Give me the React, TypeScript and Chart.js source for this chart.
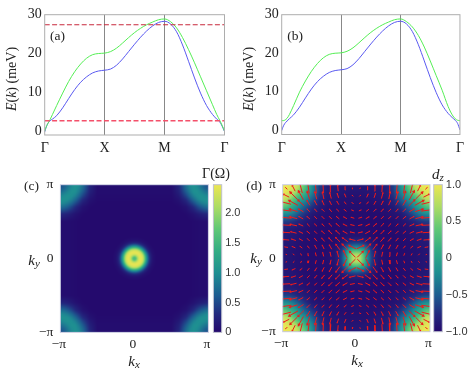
import React, { useEffect, useRef } from "react";
import { Chart, registerables } from "chart.js";

Chart.register(...registerables);

const W = 469;
const H = 378;
const PI = Math.PI;
const SERIF = '"Liberation Serif"';
const SANS = '"Liberation Sans"';

// ---------- band structure data ----------
const kPath = [0, 0.02, 0.05, 0.09, 0.13, 0.2, 0.3, 0.4, 0.5, 0.6, 0.7, 0.8, 0.9, 1, 1.1, 1.2, 1.3, 1.4, 1.5, 1.6, 1.7, 1.8, 1.9, 2, 2.1, 2.2, 2.3, 2.4, 2.5, 2.6, 2.7, 2.8, 2.87, 2.92, 2.96, 3];
const greenA = [0, 0.9, 1.9, 3, 4.3, 6.6, 9.8, 12.8, 15.3, 17.3, 18.8, 19.7, 20, 20.1, 20.5, 21.4, 22.7, 24.1, 25.4, 26.5, 27.4, 28.1, 28.7, 28.9, 28.2, 26.6, 24.1, 21, 17.6, 14, 10.4, 6.8, 4.3, 2.8, 1.5, 0];
const blueA = [-0.2, 0.8, 1.9, 2.7, 3.1, 4, 6, 8.4, 10.7, 12.6, 14, 15, 15.5, 15.7, 16, 17, 18.6, 20.5, 22.4, 24.2, 25.8, 27.1, 28, 28.3, 27.6, 25.6, 22.2, 18, 13.7, 9.8, 6.6, 4.3, 3.1, 2.4, 1.3, -0.1];
const greenB = [2.5, 2.5, 2.6, 3.1, 4.1, 6.4, 9.9, 12.8, 15.3, 17.3, 18.8, 19.7, 20, 20.1, 20.5, 21.4, 22.7, 24.1, 25.4, 26.5, 27.4, 28.1, 28.7, 28.9, 28.2, 26.8, 24.6, 21.6, 18, 14.2, 10.4, 6.2, 4, 3, 2.6, 2.5];
const blueB = [-0.1, 0.8, 1.7, 2.4, 3, 4, 6, 8.4, 10.7, 12.6, 14, 15, 15.5, 15.7, 16, 17, 18.6, 20.5, 22.4, 24.2, 25.8, 27.1, 28, 28.3, 27.6, 25.6, 22.2, 18, 13.7, 9.8, 6.6, 4.4, 3.3, 2.6, 1.8, 0.1];
const gapEnds = [0, 3];
const gapUpper = [27.4, 27.4];
const gapLower = [2.7, 2.7];
const pathTicks = [0, 1, 2, 3];
const pathLabels = ["Γ", "X", "M", "Γ"];
const energyTicks = [0, 10, 20, 30];

// ---------- Γ(Ω) data: ring around the centre + corner bands ----------
const ringRadius = [0, 0.02, 0.04, 0.06, 0.08, 0.1, 0.12, 0.14, 0.16, 0.18, 0.2, 0.22, 0.25, 0.3];
const ringValue = [1.5, 1.65, 2.05, 2.35, 2.45, 2.4, 2.2, 1.75, 1.2, 0.75, 0.42, 0.22, 0.08, 0.02];
const bandCoord = [0.5, 0.6, 0.7, 0.75, 0.8, 0.85, 0.9, 0.95, 1];
const bandGrid = [
  [0.01, 0.01, 0.01, 0.02, 0.03, 0.04, 0.05, 0.05, 0.05],
  [0.01, 0.01, 0.03, 0.06, 0.1, 0.16, 0.22, 0.26, 0.28],
  [0.01, 0.03, 0.1, 0.2, 0.32, 0.48, 0.62, 0.72, 0.76],
  [0.02, 0.06, 0.2, 0.36, 0.52, 0.7, 0.84, 0.92, 0.96],
  [0.03, 0.1, 0.32, 0.52, 0.72, 0.9, 1.0, 1.02, 1.02],
  [0.04, 0.16, 0.48, 0.7, 0.9, 1.0, 1.02, 0.98, 0.92],
  [0.05, 0.22, 0.62, 0.84, 1.0, 1.02, 0.94, 0.84, 0.76],
  [0.05, 0.26, 0.72, 0.92, 1.02, 0.98, 0.84, 0.68, 0.6],
  [0.05, 0.28, 0.76, 0.96, 1.02, 0.92, 0.76, 0.6, 0.5],
];

// ---------- d_z data (one quadrant, in units of π) ----------
const dzCoord = [0, 0.05, 0.1, 0.15, 0.2, 0.25, 0.3, 0.4, 0.5, 0.6, 0.7, 0.75, 0.8, 0.85, 0.9, 0.95, 1];
const dzGrid = [
  [0.8, 0.72, 0.35, -0.2, -0.6, -0.8, -0.9, -0.95, -0.96, -0.96, -0.95, -0.94, -0.93, -0.92, -0.9, -0.89, -0.88],
  [0.72, 0.68, 0.3, -0.25, -0.62, -0.8, -0.9, -0.95, -0.96, -0.96, -0.95, -0.94, -0.93, -0.92, -0.9, -0.89, -0.88],
  [0.35, 0.3, 0.1, -0.35, -0.66, -0.83, -0.91, -0.95, -0.96, -0.96, -0.95, -0.94, -0.93, -0.92, -0.9, -0.89, -0.88],
  [-0.2, -0.25, -0.35, -0.55, -0.75, -0.87, -0.93, -0.96, -0.96, -0.96, -0.95, -0.94, -0.93, -0.91, -0.89, -0.88, -0.87],
  [-0.6, -0.62, -0.66, -0.75, -0.85, -0.91, -0.95, -0.97, -0.97, -0.96, -0.95, -0.94, -0.92, -0.9, -0.88, -0.87, -0.86],
  [-0.8, -0.8, -0.83, -0.87, -0.91, -0.94, -0.96, -0.97, -0.97, -0.96, -0.94, -0.93, -0.91, -0.89, -0.87, -0.86, -0.85],
  [-0.9, -0.9, -0.91, -0.93, -0.95, -0.96, -0.97, -0.98, -0.97, -0.96, -0.94, -0.92, -0.9, -0.88, -0.87, -0.85, -0.85],
  [-0.95, -0.95, -0.95, -0.96, -0.97, -0.97, -0.98, -0.98, -0.97, -0.95, -0.92, -0.9, -0.88, -0.86, -0.84, -0.83, -0.82],
  [-0.96, -0.96, -0.96, -0.96, -0.97, -0.97, -0.97, -0.97, -0.95, -0.92, -0.86, -0.82, -0.78, -0.72, -0.68, -0.66, -0.65],
  [-0.96, -0.96, -0.96, -0.96, -0.96, -0.96, -0.96, -0.95, -0.92, -0.88, -0.72, -0.62, -0.5, -0.38, -0.28, -0.22, -0.2],
  [-0.95, -0.95, -0.95, -0.95, -0.95, -0.94, -0.94, -0.92, -0.86, -0.72, -0.5, -0.35, -0.18, 0.0, 0.15, 0.3, 0.38],
  [-0.94, -0.94, -0.94, -0.94, -0.94, -0.93, -0.92, -0.9, -0.82, -0.62, -0.35, -0.25, -0.02, 0.15, 0.35, 0.5, 0.6],
  [-0.93, -0.93, -0.93, -0.93, -0.92, -0.91, -0.9, -0.88, -0.78, -0.5, -0.18, -0.02, 0.15, 0.35, 0.58, 0.75, 0.85],
  [-0.92, -0.92, -0.92, -0.91, -0.9, -0.89, -0.88, -0.86, -0.72, -0.38, 0.0, 0.15, 0.35, 0.55, 0.76, 0.88, 0.95],
  [-0.9, -0.9, -0.9, -0.89, -0.88, -0.87, -0.87, -0.84, -0.68, -0.28, 0.15, 0.35, 0.58, 0.76, 0.85, 0.95, 1],
  [-0.89, -0.89, -0.89, -0.88, -0.87, -0.86, -0.85, -0.83, -0.66, -0.22, 0.3, 0.5, 0.75, 0.88, 0.95, 1, 1],
  [-0.88, -0.88, -0.88, -0.87, -0.86, -0.85, -0.85, -0.82, -0.65, -0.2, 0.38, 0.6, 0.85, 0.95, 1, 1, 1],
];

// arrows: centres at ±arrowCoord·π; horizontal size per row (|ky|) and column (|kx|)
const arrowCoord = [0.05, 0.15, 0.25, 0.35, 0.45, 0.55, 0.65, 0.75, 0.85, 0.95];
const arrowSize = [
  [0.24, 0.14, 0.06, 0.04, 0.04, 0.04, 0.04, 0.04, 0.06, 0.06],
  [0.28, 0.24, 0.16, 0.1, 0.08, 0.08, 0.08, 0.1, 0.14, 0.14],
  [0.24, 0.22, 0.18, 0.14, 0.12, 0.1, 0.1, 0.14, 0.18, 0.24],
  [0.18, 0.18, 0.16, 0.14, 0.12, 0.1, 0.12, 0.16, 0.24, 0.32],
  [0.16, 0.16, 0.14, 0.12, 0.1, 0.1, 0.1, 0.18, 0.28, 0.4],
  [0.14, 0.14, 0.12, 0.1, 0.1, 0.1, 0.12, 0.18, 0.3, 0.44],
  [0.1, 0.1, 0.1, 0.1, 0.1, 0.1, 0.12, 0.2, 0.32, 0.44],
  [0.08, 0.08, 0.08, 0.08, 0.08, 0.1, 0.12, 0.24, 0.36, 0.4],
  [0.06, 0.06, 0.06, 0.06, 0.06, 0.08, 0.1, 0.2, 0.28, 0.24],
  [0.02, 0.02, 0.02, 0.02, 0.02, 0.04, 0.06, 0.1, 0.12, 0.08],
];

const angleTicks = [-PI, 0, PI];
const angleLabels = ["−π", "0", "π"];
const gammaTicks = [0, 0.5, 1, 1.5, 2];
const gammaRange = [0, 2.47];
const dzTicks = [-1, -0.5, 0, 0.5, 1];
const dzRange = [-1, 1];

const mapStops = [0, 0.12, 0.25, 0.4, 0.55, 0.7, 0.85, 1];
const mapColors = [
  [36, 8, 108],
  [35, 40, 126],
  [29, 92, 144],
  [30, 142, 146],
  [50, 172, 132],
  [96, 200, 118],
  [172, 220, 100],
  [236, 230, 82],
];

// ---------- layout ----------
type Rect = { left: number; top: number; right: number; bottom: number };
const rectA: Rect = { left: 44.7, top: 14.7, right: 224.5, bottom: 135 };
const rectB: Rect = { left: 281.7, top: 14.7, right: 460.7, bottom: 134.5 };
const rectC: Rect = { left: 60.4, top: 184.7, right: 208.4, bottom: 332.4 };
const rectD: Rect = { left: 282.7, top: 184.7, right: 430, bottom: 331.7 };
const rectBarC: Rect = { left: 213.4, top: 184.7, right: 221.7, bottom: 332.4 };
const rectBarD: Rect = { left: 433.7, top: 184.7, right: 442.3, bottom: 331.7 };

type Run = { t: string; style?: string; dy?: number; size?: number };
type Note = { x: number; y: number; runs: Run[]; rot?: number; size: number };

const energyRuns: Run[] = [
  { t: "E", style: "italic" },
  { t: "(" },
  { t: "k", style: "italic" },
  { t: ") (meV)" },
];
const kxRuns: Run[] = [{ t: "k", style: "italic" }, { t: "x", style: "italic", dy: 3, size: 11 }];
const kyRuns: Run[] = [{ t: "k", style: "italic" }, { t: "y", style: "italic", dy: 3, size: 11 }];

const notesA: Note[] = [
  { x: 12.5, y: 79, runs: energyRuns, rot: -90, size: 14 },
  { x: 57.5, y: 36, runs: [{ t: "(a)" }], size: 13.5 },
];
const notesB: Note[] = [
  { x: 249.5, y: 79, runs: energyRuns, rot: -90, size: 14 },
  { x: 295, y: 36, runs: [{ t: "(b)" }], size: 13.5 },
];
const notesC: Note[] = [
  { x: 31.5, y: 186.5, runs: [{ t: "(c)" }], size: 13.5 },
  { x: 34, y: 261, runs: kyRuns, size: 15 },
  { x: 134, y: 362, runs: kxRuns, size: 15 },
  { x: 216, y: 174, runs: [{ t: "Γ(Ω)" }], size: 14 },
];
const notesD: Note[] = [
  { x: 254, y: 186, runs: [{ t: "(d)" }], size: 13.5 },
  { x: 256, y: 259, runs: kyRuns, size: 15 },
  { x: 357, y: 361, runs: kxRuns, size: 15 },
  { x: 438, y: 175, runs: [{ t: "d", style: "italic" }, { t: "z", style: "italic", dy: 3, size: 11 }], size: 15 },
];

// ---------- helpers ----------
function bracket(coord: number[], v: number): [number, number, number] {
  if (v <= coord[0]) return [0, 0, 0];
  const n = coord.length - 1;
  if (v >= coord[n]) return [n, n, 0];
  let i = 0;
  while (coord[i + 1] < v) i++;
  return [i, i + 1, (v - coord[i]) / (coord[i + 1] - coord[i])];
}
function table1(xs: number[], ys: number[], v: number) {
  const [a, b, t] = bracket(xs, v);
  return ys[a] * (1 - t) + ys[b] * t;
}
function table2(coord: number[], grid: number[][], x: number, y: number) {
  const [a, b, t] = bracket(coord, x);
  const [c, d, u] = bracket(coord, y);
  return (
    (grid[c][a] * (1 - t) + grid[c][b] * t) * (1 - u) +
    (grid[d][a] * (1 - t) + grid[d][b] * t) * u
  );
}
function mapColor(f: number) {
  const [a, b, t] = bracket(mapStops, f);
  return mapColors[a].map((c, i) => c * (1 - t) + mapColors[b][i] * t);
}
function gammaAt(kx: number, ky: number) {
  const x = Math.abs(kx) / PI;
  const y = Math.abs(ky) / PI;
  const ring = table1(ringRadius, ringValue, Math.hypot(x, y));
  const band = table2(bandCoord, bandGrid, x, y);
  return Math.max(ring, band);
}
function dzAt(kx: number, ky: number) {
  return table2(dzCoord, dzGrid, Math.abs(kx) / PI, Math.abs(ky) / PI);
}

const heatPlugin = {
  id: "heat",
  beforeDatasetsDraw(chart: any, _a: any, o: any) {
    if (!o.value) return;
    const { left, top, right, bottom } = chart.chartArea;
    const w = Math.round(right - left);
    const h = Math.round(bottom - top);
    const off = document.createElement("canvas");
    off.width = w;
    off.height = h;
    const octx = off.getContext("2d")!;
    const img = octx.createImageData(w, h);
    const sx = chart.scales.x;
    const sy = chart.scales.y;
    for (let j = 0; j < h; j++) {
      const ky = sy.getValueForPixel(top + ((j + 0.5) * (bottom - top)) / h);
      for (let i = 0; i < w; i++) {
        const kx = sx.getValueForPixel(left + ((i + 0.5) * (right - left)) / w);
        const c = mapColor((o.value(kx, ky) - o.min) / (o.max - o.min));
        const p = (j * w + i) * 4;
        img.data[p] = c[0];
        img.data[p + 1] = c[1];
        img.data[p + 2] = c[2];
        img.data[p + 3] = 255;
      }
    }
    octx.putImageData(img, 0, 0);
    chart.ctx.drawImage(off, left, top, right - left, bottom - top);
  },
};

const framePlugin = {
  id: "frame",
  afterDatasetsDraw(chart: any, _a: any, o: any) {
    const { left, top, right, bottom } = chart.chartArea;
    const ctx = chart.ctx;
    ctx.save();
    ctx.strokeStyle = o.color || "#b4b4b4";
    ctx.lineWidth = 1;
    ctx.strokeRect(left, top, right - left, bottom - top);
    ctx.restore();
  },
};

const notePlugin = {
  id: "notes",
  afterDraw(chart: any, _a: any, o: any) {
    const ctx = chart.ctx;
    for (const n of (o.items || []) as Note[]) {
      ctx.save();
      ctx.translate(n.x, n.y);
      if (n.rot) ctx.rotate((n.rot * PI) / 180);
      ctx.fillStyle = "#222";
      ctx.textBaseline = "middle";
      ctx.textAlign = "left";
      const fontOf = (r: Run) => `${r.style || "normal"} ${r.size || n.size}px ${SERIF}`;
      let total = 0;
      for (const r of n.runs) {
        ctx.font = fontOf(r);
        total += ctx.measureText(r.t).width;
      }
      let x = -total / 2;
      for (const r of n.runs) {
        ctx.font = fontOf(r);
        ctx.fillText(r.t, x, r.dy || 0);
        x += ctx.measureText(r.t).width;
      }
      ctx.restore();
    }
  },
};

function plotLayout(r: Rect) {
  return {
    autoPadding: false,
    padding: { left: 0, top: r.top, right: W - r.right, bottom: 0 },
  };
}
function serifTicks(size: number, padding: number, extra: any) {
  return {
    font: { family: SERIF, size },
    color: "#222",
    padding,
    maxRotation: 0,
    minRotation: 0,
    autoSkip: false,
    ...extra,
  };
}

function lineConfig(rect: Rect, series: any[], notes: Note[], yMin: number): any {
  return {
    type: "scatter",
    data: { datasets: series },
    plugins: [framePlugin, notePlugin],
    options: {
      responsive: false,
      animation: false,
      layout: plotLayout(rect),
      plugins: {
        legend: { display: false },
        tooltip: { enabled: false },
        frame: { color: "#adadad" },
        notes: { items: notes },
      },
      scales: {
        x: {
          type: "linear",
          min: 0,
          max: 3,
          afterFit: (s: any) => { s.height = H - rect.bottom; },
          afterBuildTicks: (s: any) => { s.ticks = pathTicks.map((value) => ({ value })); },
          border: { display: false },
          grid: {
            drawTicks: false,
            color: (c: any) => (c.tick && (c.tick.value === 1 || c.tick.value === 2) ? "#888888" : "rgba(0,0,0,0)"),
          },
          ticks: serifTicks(14, 5, { callback: (v: number) => pathLabels[pathTicks.indexOf(v)] }),
        },
        y: {
          type: "linear",
          min: yMin,
          max: 30,
          afterFit: (s: any) => { s.width = rect.left; },
          afterBuildTicks: (s: any) => { s.ticks = energyTicks.map((value) => ({ value })); },
          border: { display: false },
          grid: { display: false, drawTicks: false },
          ticks: serifTicks(14, 3, {}),
        },
      },
    },
  };
}

function curve(name: string, ys: number[], color: string) {
  return {
    label: name,
    data: kPath.map((x, i) => ({ x, y: ys[i] })),
    showLine: true,
    borderColor: color,
    borderWidth: 1,
    pointRadius: 0,
    cubicInterpolationMode: "monotone",
  };
}
function flat(name: string, ys: number[], color: string, width: number) {
  return {
    label: name,
    data: gapEnds.map((x, i) => ({ x, y: ys[i] })),
    showLine: true,
    borderColor: color,
    borderWidth: width,
    borderDash: [5, 2.4],
    pointRadius: 0,
  };
}

function heatConfig(rect: Rect, datasets: any[], notes: Note[], heat: any, xShift: number): any {
  const sym = (s: any) => { s.ticks = angleTicks.map((value) => ({ value })); };
  const lab = (v: number) => angleLabels[angleTicks.indexOf(v)];
  return {
    type: "scatter",
    data: { datasets },
    plugins: [heatPlugin, framePlugin, notePlugin],
    options: {
      responsive: false,
      animation: false,
      layout: plotLayout(rect),
      plugins: {
        legend: { display: false },
        tooltip: { enabled: false },
        heat,
        frame: { color: "#c9cbe0" },
        notes: { items: notes },
      },
      scales: {
        x: {
          type: "linear",
          min: -PI,
          max: PI,
          afterFit: (s: any) => { s.height = H - rect.bottom; },
          afterBuildTicks: sym,
          border: { display: false },
          grid: { display: false, drawTicks: false },
          ticks: serifTicks(13.5, 3.5, { callback: lab, labelOffset: xShift }),
        },
        y: {
          type: "linear",
          min: -PI,
          max: PI,
          afterFit: (s: any) => { s.width = rect.left; },
          afterBuildTicks: sym,
          border: { display: false },
          grid: { display: false, drawTicks: false },
          ticks: serifTicks(13.5, 7, { callback: lab }),
        },
      },
    },
  };
}

function barConfig(rect: Rect, range: number[], ticks: number[]): any {
  return {
    type: "bar",
    data: {
      labels: ["scale"],
      datasets: [
        {
          data: [range],
          barPercentage: 1,
          categoryPercentage: 1,
          borderWidth: 0,
          backgroundColor: (c: any) => {
            const area = c.chart.chartArea;
            if (!area) return "#888";
            const g = c.chart.ctx.createLinearGradient(0, area.bottom, 0, area.top);
            mapStops.forEach((s, i) => g.addColorStop(s, `rgb(${mapColors[i].join(",")})`));
            return g;
          },
        },
      ],
    },
    plugins: [framePlugin],
    options: {
      responsive: false,
      animation: false,
      layout: {
        autoPadding: false,
        padding: { left: rect.left, top: rect.top, right: 0, bottom: H - rect.bottom },
      },
      plugins: {
        legend: { display: false },
        tooltip: { enabled: false },
        frame: { color: "#bfc0cf" },
      },
      scales: {
        x: { display: false },
        y: {
          position: "right",
          min: range[0],
          max: range[1],
          afterFit: (s: any) => { s.width = W - rect.right; },
          afterBuildTicks: (s: any) => { s.ticks = ticks.map((value) => ({ value })); },
          border: { display: false },
          grid: { display: false, drawTicks: false },
          ticks: {
            font: { family: SANS, size: 11 },
            color: "#333",
            padding: 3.5,
            autoSkip: false,
            callback: (v: number) => (v === 0 ? "0" : v.toFixed(1).replace("-", "−")),
          },
        },
      },
    },
  };
}

const PX_PER_UNIT = 23.4;

function buildArrows() {
  const pts: any[] = [];
  arrowCoord.forEach((cy, j) => {
    arrowCoord.forEach((cx, i) => {
      for (const sx of [-1, 1]) {
        for (const sy of [-1, 1]) {
          const u = sx * arrowSize[j][i];
          const v = sy * arrowSize[i][j];
          const x = sx * cx * PI;
          const y = sy * cy * PI;
          pts.push({ x: x - u / 2, y: y - v / 2, u, v });
          pts.push({ x: x + u / 2, y: y + v / 2, u, v });
          pts.push({ x: null, y: null });
        }
      }
    });
  });
  return pts;
}

function Layer({ make }: { make: () => any }) {
  const ref = useRef<HTMLCanvasElement | null>(null);
  useEffect(() => {
    const chart = new Chart(ref.current!, make());
    return () => chart.destroy();
  }, []);
  return (
    <canvas
      ref={ref}
      width={W}
      height={H}
      style={{ position: "absolute", left: 0, top: 0, width: W, height: H }}
    />
  );
}

const layers = [
  () =>
    lineConfig(
      rectA,
      [
        flat("upper", gapUpper, "#c8283c", 1.1),
        flat("lower", gapLower, "#f4506a", 1.5),
        curve("green", greenA, "#55ee55"),
        curve("blue", blueA, "#5a5af0"),
      ],
      notesA,
      -1
    ),
  () =>
    lineConfig(
      rectB,
      [curve("green", greenB, "#55ee55"), curve("blue", blueB, "#5a5af0")],
      notesB,
      -1.1
    ),
  () =>
    heatConfig(
      rectC,
      [
        {
          label: "Γ(Ω)",
          data: ringRadius.map((r, i) => ({ x: r * PI, y: 0, v: ringValue[i] })),
          pointRadius: 0,
        },
      ],
      notesC,
      { value: gammaAt, min: gammaRange[0], max: gammaRange[1] },
      -1.5
    ),
  () => barConfig(rectBarC, gammaRange, gammaTicks),
  () =>
    heatConfig(
      rectD,
      [
        {
          label: "in-plane d",
          data: buildArrows(),
          showLine: true,
          spanGaps: false,
          borderColor: "#f01a1a",
          borderWidth: 1,
          backgroundColor: "#f01a1a",
          pointBorderWidth: 0,
          pointStyle: "triangle",
          pointRadius: (c: any) => {
            if (c.dataIndex % 3 !== 1 || !c.raw) return 0;
            const len = Math.hypot(c.raw.u, c.raw.v) * PX_PER_UNIT;
            return Math.min(2, len * 0.22);
          },
          pointRotation: (c: any) => {
            const p = c.raw;
            return p && p.u !== undefined ? (Math.atan2(p.u, p.v) * 180) / PI : 0;
          },
        },
      ],
      notesD,
      { value: dzAt, min: dzRange[0], max: dzRange[1] },
      -1.5
    ),
  () => barConfig(rectBarD, dzRange, dzTicks),
];

export default function App() {
  return (
    <div style={{ position: "absolute", left: 0, top: 0, width: W, height: H, overflow: "hidden", background: "#fff", filter: "blur(0.35px)" }}>
      {layers.map((make, i) => (
        <Layer key={i} make={make} />
      ))}
    </div>
  );
}
